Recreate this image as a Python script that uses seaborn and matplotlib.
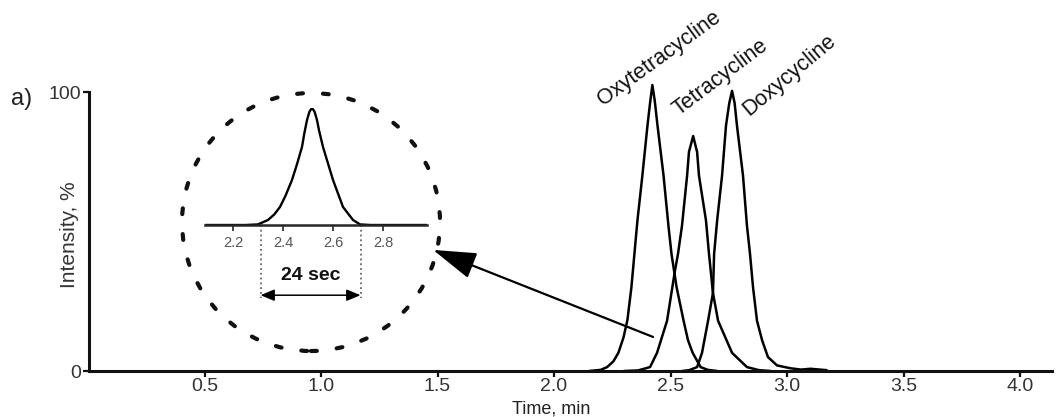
import matplotlib
matplotlib.use("Agg")
import matplotlib.pyplot as plt
from matplotlib.patches import Ellipse
import seaborn as sns

# ---- chromatogram traces (time in min, intensity in %) ----
oxy_time = [2.15, 2.20, 2.228, 2.255, 2.276, 2.298, 2.315, 2.332, 2.345, 2.358,
            2.379, 2.401, 2.412, 2.422, 2.432, 2.444, 2.470, 2.491, 2.504, 2.526,
            2.556, 2.575, 2.595, 2.629, 2.66, 2.70]
oxy_intensity = [0, 0.4, 1.4, 3.5, 6.5, 12, 18.3, 30, 42, 54,
                 70, 88, 96, 102.5, 97, 88, 70, 52, 42, 30,
                 18, 11, 6.5, 1.4, 0.4, 0]

tetra_time = [2.30, 2.36, 2.412, 2.442, 2.485, 2.519, 2.532, 2.549, 2.571, 2.579,
              2.597, 2.614, 2.622, 2.652, 2.665, 2.682, 2.704, 2.764, 2.828, 2.88, 2.93]
tetra_intensity = [0, 0.2, 1.4, 6.5, 18, 36, 42, 52, 70, 78.5,
                   84.2, 78.5, 70, 54, 42, 28, 18, 6.5, 1.4, 0.3, 0]

doxy_time = [2.55, 2.58, 2.614, 2.635, 2.661, 2.682, 2.687, 2.700, 2.721, 2.738,
             2.752, 2.764, 2.775, 2.785, 2.811, 2.828, 2.841, 2.854, 2.871, 2.893,
             2.918, 2.957, 3.013, 3.06, 3.10, 3.17]
doxy_intensity = [0, 0.3, 1.4, 6.5, 18, 28, 42, 54, 70, 88,
                  96, 100.4, 96, 88, 70, 52, 42, 30, 18, 11,
                  5, 2, 1, 0.5, 0.8, 0.3]

peak_names = ["Oxytetracycline", "Tetracycline", "Doxycycline"]
# label anchor (time, intensity) and text angle for each peak
label_time = [2.222, 2.547, 2.852]
label_intensity = [93.5, 90.0, 90.0]
label_angle = [36, 37, 40]

x_ticks = [0.5, 1.0, 1.5, 2.0, 2.5, 3.0, 3.5, 4.0]
x_tick_labels = ["0.5", "1.0", "1.5", "2.0", "2.5", "3.0", "3.5", "4.0"]
y_ticks = [0, 100]
y_tick_labels = ["0", "100"]

# ---- magnified single peak ----
zoom_time = [2.088, 2.25, 2.30, 2.34, 2.365, 2.388, 2.41, 2.436, 2.456, 2.476,
             2.485, 2.496, 2.506, 2.516, 2.526, 2.536, 2.544, 2.56, 2.60, 2.64,
             2.68, 2.708, 2.75, 2.976]
zoom_intensity = [0, 0, 0.5, 4.3, 9, 15.4, 25, 38.5, 52, 66.7,
                  78, 89.7, 97, 100, 97, 89.7, 81, 66.7, 38.5, 15.4,
                  4.3, 0.5, 0, 0]
zoom_ticks = [2.2, 2.4, 2.6, 2.8]
zoom_tick_labels = ["2.2", "2.4", "2.6", "2.8"]
base_start, base_end = 2.31, 2.71
base_label = "24 sec"

sns.set_style("ticks")
plt.rcParams["font.family"] = ["Liberation Sans", "DejaVu Sans"]

W, H = 1056, 417
fig = plt.figure(figsize=(W / 100, H / 100), dpi=100)
fig.patch.set_facecolor("white")

# main chromatogram axes
ax = fig.add_axes([89 / W, (H - 371) / H, (1052 - 89) / W, (371 - 92) / H])
for t, i in [(oxy_time, oxy_intensity), (tetra_time, tetra_intensity),
             (doxy_time, doxy_intensity)]:
    sns.lineplot(x=t, y=i, ax=ax, color="black", linewidth=1.8,
                 estimator=None, sort=False)
for line in ax.lines:
    line.set_clip_on(False)

ax.set_xlim(0.0043, 4.137)
ax.set_ylim(0, 100)
ax.set_xticks(x_ticks)
ax.set_xticklabels(x_tick_labels)
ax.set_yticks(y_ticks)
ax.set_yticklabels(y_tick_labels)
ax.tick_params(axis="both", direction="out", length=4, width=1.6,
               labelsize=14, colors="#111111", labelcolor="#333333")
ax.tick_params(axis="x", pad=1)
ax.tick_params(axis="y", pad=2)
sns.despine(ax=ax)
for side in ("left", "bottom"):
    ax.spines[side].set_linewidth(2.2)
    ax.spines[side].set_color("#111111")

ax.set_xlabel("Time, min", fontsize=13, color="#222222")
ax.xaxis.label.set_va("baseline")
ax.xaxis.set_label_coords(0.48, -(413 - 371) / (371 - 92))
ax.set_ylabel("Intensity, %", fontsize=15, color="#333333")
ax.yaxis.set_label_coords(-0.0104, 0.49)

for name, tx, ty, ang in zip(peak_names, label_time, label_intensity, label_angle):
    ax.text(tx, ty, name, rotation=ang, rotation_mode="anchor", ha="left",
            va="bottom", fontsize=15.5, color="#111111", clip_on=False)

# arrow pointing from the first peak to the magnified view
ax.annotate("", xy=(1.481, 43.4), xytext=(2.425, 12.2),
            arrowprops=dict(arrowstyle="-|>,head_length=1.35,head_width=0.42",
                            mutation_scale=20, color="black", lw=1.6,
                            shrinkA=0, shrinkB=0),
            annotation_clip=False)

# magnified peak axes
ax_in = fig.add_axes([205 / W, (H - 225) / H, 222 / W, 117 / H])
ax_in.set_facecolor("none")
sns.lineplot(x=zoom_time, y=zoom_intensity, ax=ax_in, color="black",
             linewidth=1.7, estimator=None, sort=False)
ax_in.set_xlim(zoom_time[0], zoom_time[-1])
ax_in.set_ylim(0, 100)
ax_in.set_xticks(zoom_ticks)
ax_in.set_xticklabels(zoom_tick_labels)
ax_in.set_yticks([])
for side in ("left", "top", "right"):
    ax_in.spines[side].set_visible(False)
ax_in.spines["bottom"].set_linewidth(1.8)
ax_in.tick_params(axis="x", direction="out", length=4, width=1.2, pad=4,
                  labelsize=10.5, labelcolor="#555555")

# peak base width marker
for xb in (base_start, base_end):
    ax_in.plot([xb, xb], [0, -62], linestyle=":", color="#666666",
               linewidth=1.3, clip_on=False)
ax_in.annotate("", xy=(base_start, -60), xytext=(base_end, -60),
               arrowprops=dict(arrowstyle="<|-|>,head_length=0.6,head_width=0.25",
                               mutation_scale=14, color="black", lw=1.1,
                               shrinkA=0, shrinkB=0),
               annotation_clip=False)
ax_in.text((base_start + base_end) / 2, -43, base_label, ha="center",
           va="center", fontsize=14, fontweight="bold", color="#111111")

# dashed magnifier circle
circle = Ellipse((311 / W, 1 - 222 / H), 258 / W, 258 / H,
                 transform=fig.transFigure, fill=False, edgecolor="#111111",
                 linewidth=3.0, linestyle=(0, (1.4, 4.8)))
circle.set_capstyle("round")
fig.add_artist(circle)

fig.text(22 / W, 1 - 99 / H, "a)", fontsize=17, ha="center", va="center",
         color="#222222")

fig.savefig("out.png", dpi=100)
